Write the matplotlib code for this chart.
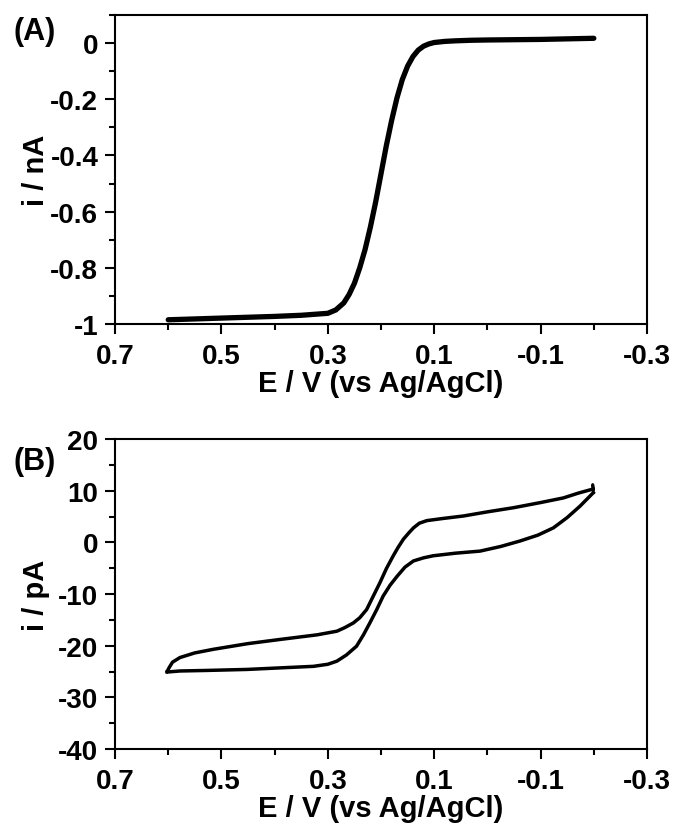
import matplotlib
matplotlib.use("Agg")
import matplotlib.pyplot as plt
from matplotlib.ticker import MultipleLocator

plt.rcParams['font.family'] = ['Liberation Sans', 'DejaVu Sans']
plt.rcParams['font.weight'] = 'bold'
plt.rcParams['axes.labelweight'] = 'bold'
plt.rcParams['axes.unicode_minus'] = False

# (A) steady-state voltammogram, E in V, i in nA
E_a = [0.60, 0.55, 0.50, 0.45, 0.40, 0.35, 0.30, 0.285, 0.27, 0.26, 0.25, 0.24,
       0.23, 0.22, 0.21, 0.20, 0.19, 0.18, 0.17, 0.16, 0.15, 0.14, 0.13, 0.12,
       0.11, 0.10, 0.08, 0.06, 0.03, 0.0, -0.05, -0.10, -0.15, -0.20]
i_a = [-0.985, -0.982, -0.979, -0.976, -0.973, -0.969, -0.962, -0.950, -0.925, -0.895,
       -0.855, -0.800, -0.735, -0.655, -0.565, -0.465, -0.365, -0.275, -0.195, -0.130,
       -0.082, -0.048, -0.025, -0.011, -0.003, 0.002, 0.006, 0.008, 0.010, 0.011,
       0.012, 0.013, 0.015, 0.017]

# (B) cyclic voltammogram, E in V, i in pA
E_up = [-0.198, -0.170, -0.143, -0.100, -0.049, 0.000, 0.045, 0.085, 0.114, 0.128,
        0.139, 0.148, 0.158, 0.168, 0.177, 0.190, 0.202, 0.215, 0.227, 0.240,
        0.252, 0.268, 0.283, 0.320, 0.390, 0.450, 0.515, 0.550, 0.578, 0.592,
        0.598, 0.602]
i_up = [10.3, 9.5, 8.6, 7.7, 6.7, 5.9, 5.1, 4.6, 4.2, 3.7,
        2.8, 1.8, 0.6, -1.0, -2.6, -5.1, -7.8, -10.5, -13.0, -14.6,
        -15.6, -16.5, -17.2, -17.9, -18.8, -19.6, -20.7, -21.4, -22.3, -23.2,
        -24.2, -25.0]
E_dn = [0.602, 0.578, 0.530, 0.452, 0.390, 0.327, 0.300, 0.283, 0.265, 0.246,
        0.233, 0.221, 0.208, 0.196, 0.183, 0.170, 0.155, 0.139, 0.120, 0.102,
        0.060, 0.014, -0.025, -0.061, -0.095, -0.124, -0.150, -0.174, -0.199]
i_dn = [-25.1, -24.9, -24.8, -24.6, -24.3, -24.0, -23.6, -23.0, -21.8, -20.1,
        -17.9, -15.6, -13.0, -10.4, -8.3, -6.6, -4.8, -3.6, -3.0, -2.6,
        -2.1, -1.7, -0.8, 0.25, 1.4, 2.8, 4.8, 7.0, 9.6]
E_spike = [-0.199, -0.198, -0.199]
i_spike = [9.6, 11.2, 10.3]

x_ticks = [0.7, 0.5, 0.3, 0.1, -0.1, -0.3]
x_labels = ['0.7', '0.5', '0.3', '0.1', '-0.1', '-0.3']
ya_ticks = [0, -0.2, -0.4, -0.6, -0.8, -1]
ya_labels = ['0', '-0.2', '-0.4', '-0.6', '-0.8', '-1']
yb_ticks = [20, 10, 0, -10, -20, -30, -40]

fig = plt.figure(figsize=(6.79, 8.28), dpi=100)
ax1 = fig.add_axes([0.1694, 0.6075, 0.7835, 0.3732])
ax2 = fig.add_axes([0.1694, 0.0942, 0.7835, 0.3744])

ax1.plot(E_a, i_a, color='black', lw=3.8, solid_capstyle='round')
ax2.plot(E_up, i_up, color='black', lw=2.5)
ax2.plot(E_dn, i_dn, color='black', lw=2.5)
ax2.plot(E_spike, i_spike, color='black', lw=2.0)

for ax in (ax1, ax2):
    ax.set_xlim(0.7, -0.3)
    ax.set_xticks(x_ticks)
    ax.set_xticklabels(x_labels)
    ax.xaxis.set_minor_locator(MultipleLocator(0.1))
    ax.tick_params(which='major', direction='out', length=7, width=1.5,
                   labelsize=20, top=False, right=False)
    ax.tick_params(axis='x', which='major', pad=7)
    ax.tick_params(axis='y', which='major', pad=5)
    ax.tick_params(which='minor', direction='out', length=4.5, width=1.5,
                   top=False, right=False)
    for s in ax.spines.values():
        s.set_linewidth(1.5)
    ax.set_xlabel('E / V (vs Ag/AgCl)', fontsize=21, va='top')
    ax.xaxis.set_label_coords(0.5, -0.145)

ax1.set_ylim(-1, 0.1)
ax1.set_yticks(ya_ticks)
ax1.set_yticklabels(ya_labels)
ax1.yaxis.set_minor_locator(MultipleLocator(0.1))
ax1.set_ylabel('i / nA', fontsize=21)
ax1.yaxis.set_label_coords(-0.122, 0.5)

ax2.set_ylim(-40, 20)
ax2.set_yticks(yb_ticks)
ax2.yaxis.set_minor_locator(MultipleLocator(5))
ax2.set_ylabel('i / pA', fontsize=21)
ax2.yaxis.set_label_coords(-0.122, 0.5)

fig.text(0.020, 0.961, '(A)', fontsize=22, fontweight='bold', va='center')
fig.text(0.020, 0.442, '(B)', fontsize=22, fontweight='bold', va='center')

fig.savefig('out.png', dpi=100)
